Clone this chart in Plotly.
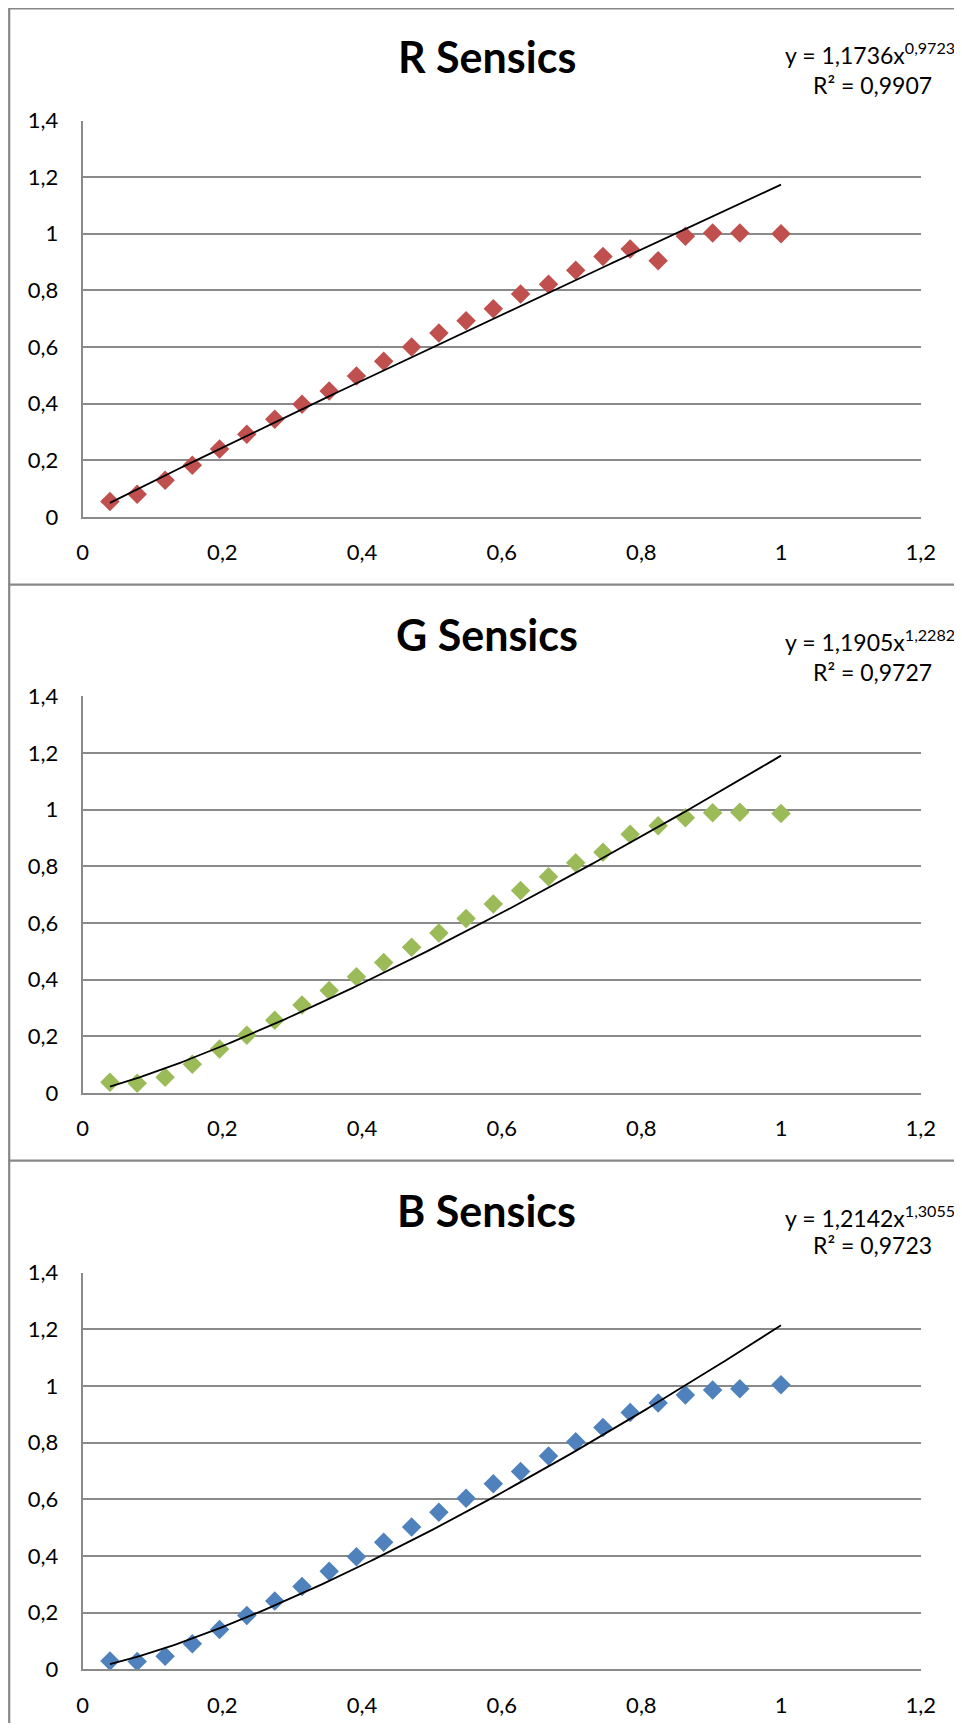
import numpy as np
import plotly.graph_objects as go

# The page body keeps its default 8px margin, so the figure is sized to fit
# the 962x1731 window exactly and all reference positions are shifted by 8px.
OFF = 8
W, H = 962 - 2 * OFF, 1731 - 2 * OFF

# ---- data ----
x_vals = [0.039, 0.078, 0.118, 0.157, 0.196, 0.235, 0.275, 0.314, 0.353, 0.392,
          0.431, 0.471, 0.510, 0.549, 0.588, 0.627, 0.667, 0.706, 0.745, 0.784,
          0.824, 0.863, 0.902, 0.941, 1.0]
r_vals = [0.055, 0.08, 0.13, 0.183, 0.24, 0.292, 0.345, 0.398, 0.445, 0.498,
          0.55, 0.60, 0.65, 0.693, 0.735, 0.787, 0.822, 0.871, 0.92, 0.946,
          0.905, 0.991, 1.003, 1.003, 1.0]
g_vals = [0.037, 0.034, 0.055, 0.101, 0.155, 0.203, 0.256, 0.31, 0.361, 0.41,
          0.46, 0.514, 0.564, 0.615, 0.667, 0.714, 0.763, 0.812, 0.849, 0.913,
          0.943, 0.971, 0.989, 0.991, 0.986]
b_vals = [0.029, 0.027, 0.046, 0.09, 0.14, 0.19, 0.241, 0.292, 0.346, 0.397,
          0.448, 0.502, 0.554, 0.604, 0.655, 0.698, 0.753, 0.803, 0.853, 0.906,
          0.94, 0.968, 0.986, 0.99, 1.004]

titles = ["R Sensics", "G Sensics", "B Sensics"]
colors = ["#C0504D", "#9BBB59", "#4F81BD"]
coef_a = [1.1736, 1.1905, 1.2142]
coef_b = [0.9723, 1.2282, 1.3055]
coef_a_txt = ["1,1736", "1,1905", "1,2142"]
coef_b_txt = ["0,9723", "1,2282", "1,3055"]
r2_txt = ["0,9907", "0,9727", "0,9723"]

x_ticks = [0, 0.2, 0.4, 0.6, 0.8, 1.0, 1.2]
x_tick_text = ["0", "0,2", "0,4", "0,6", "0,8", "1", "1,2"]
y_ticks = [0, 0.2, 0.4, 0.6, 0.8, 1.0, 1.2, 1.4]
y_tick_text = ["0", "0,2", "0,4", "0,6", "0,8", "1", "1,2", "1,4"]

series = [r_vals, g_vals, b_vals]

# ---- layout geometry (window pixels) ----
plot_left, plot_right = 82.7, 920.7
plot_tops = [120.5, 696.3, 1272.7]
plot_h = 396.5
sep_y = [7.3, 583.7, 1159.6]
title_y = [56.0, 634.5, 1210.7]
eq1_y = [53.3, 640.8, 1216.0]
eq2_y = [85.0, 671.7, 1245.2]
eq1_x = 870
eq2_x = 872
title_x = 487
frame_x = 9.2


def px_x(v):
    return (v - OFF) / W


def px_y(v):
    return 1 - (v - OFF) / H


fig = go.Figure()
FONT = "Lato"
GRID = "#8A8A8A"
annotations = []
shapes = []

for i in range(3):
    sfx = "" if i == 0 else str(i + 1)
    xa = "x" + sfx
    ya = "y" + sfx
    fig.add_trace(go.Scatter(
        x=x_vals, y=series[i], mode="markers", xaxis=xa, yaxis=ya,
        marker=dict(symbol="diamond", size=15, color=colors[i], line=dict(width=0)),
        showlegend=False, hoverinfo="x+y"))
    xs = np.linspace(min(x_vals), max(x_vals), 200)
    fig.add_trace(go.Scatter(
        x=xs, y=coef_a[i] * xs ** coef_b[i], mode="lines", xaxis=xa, yaxis=ya,
        line=dict(color="black", width=1.8), showlegend=False, hoverinfo="skip"))

    top = plot_tops[i]
    bot = top + plot_h
    fig.layout["xaxis" + sfx] = dict(
        domain=[px_x(plot_left), px_x(plot_right)], anchor=ya, range=[0, 1.2],
        tickvals=x_ticks, ticktext=x_tick_text, showgrid=False, zeroline=False,
        showline=True, linecolor=GRID, linewidth=2, ticks="", automargin=False,
        ticklabelstandoff=15, tickfont=dict(family=FONT, size=22, color="black"),
        fixedrange=True)
    fig.layout["yaxis" + sfx] = dict(
        domain=[px_y(bot), px_y(top)], anchor=xa, range=[0, 1.4],
        tickvals=y_ticks, ticktext=y_tick_text, showgrid=True, gridcolor=GRID,
        gridwidth=2, zeroline=False, showline=True, linecolor=GRID, linewidth=2,
        ticks="", ticklabelstandoff=18, automargin=False,
        tickfont=dict(family=FONT, size=22, color="black"), fixedrange=True)

    annotations.append(dict(
        xref="paper", yref="paper", x=px_x(title_x), y=px_y(title_y[i]),
        xanchor="center", yanchor="middle", showarrow=False,
        text="<b>" + titles[i] + "</b>", font=dict(family=FONT, size=43, color="black")))
    annotations.append(dict(
        xref="paper", yref="paper", x=px_x(eq1_x), y=px_y(eq1_y[i]),
        xanchor="center", yanchor="middle", showarrow=False,
        text="y = " + coef_a_txt[i] + "x<sup>" + coef_b_txt[i] + "</sup>",
        font=dict(family=FONT, size=23, color="black")))
    annotations.append(dict(
        xref="paper", yref="paper", x=px_x(eq2_x), y=px_y(eq2_y[i]),
        xanchor="center", yanchor="middle", showarrow=False,
        text="R² = " + r2_txt[i],
        font=dict(family=FONT, size=23, color="black")))
    shapes.append(dict(type="line", xref="paper", yref="paper",
                       x0=px_x(frame_x - 1), x1=1, y0=px_y(sep_y[i] + 1), y1=px_y(sep_y[i] + 1),
                       line=dict(color="#878787", width=2.2)))

shapes.append(dict(type="line", xref="paper", yref="paper",
                   x0=px_x(frame_x), x1=px_x(frame_x), y0=px_y(sep_y[0] + 1), y1=0,
                   line=dict(color="#878787", width=2.2)))

fig.update_layout(
    width=W, height=H, autosize=False,
    margin=dict(l=0, r=0, t=0, b=0, pad=0, autoexpand=False),
    paper_bgcolor="white", plot_bgcolor="white",
    annotations=annotations, shapes=shapes, showlegend=False,
    font=dict(family=FONT, color="black"),
)

fig.write_html("out.html", config={"displayModeBar": False})
